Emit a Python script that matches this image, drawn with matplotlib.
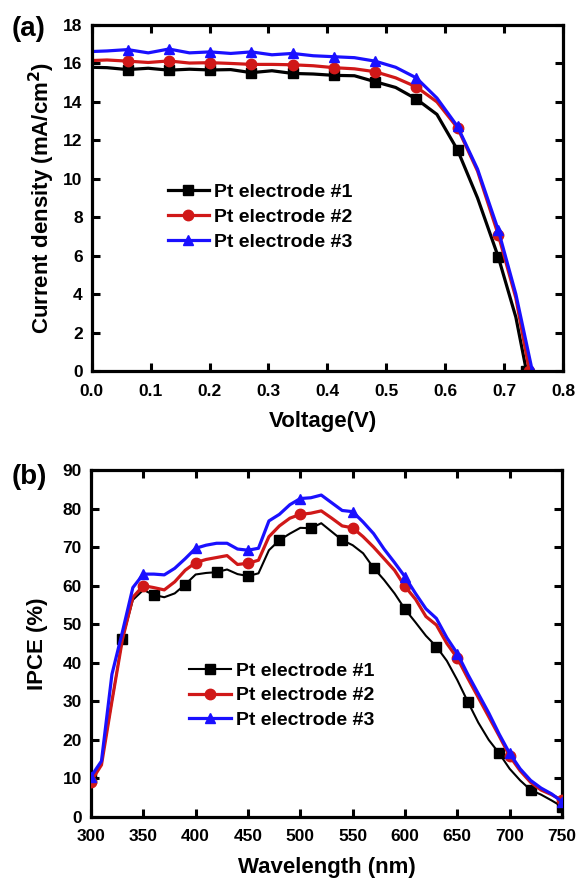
import matplotlib
matplotlib.use("Agg")
import matplotlib.pyplot as plt

plt.rcParams['font.family'] = ['Liberation Sans', 'DejaVu Sans']
plt.rcParams['font.weight'] = 'bold'
plt.rcParams['mathtext.default'] = 'bf'

labels = ["Pt electrode #1", "Pt electrode #2", "Pt electrode #3"]
colors = ["#000000", "#d01818", "#1a10ff"]
markers = ["s", "o", "^"]

# ---- J-V data ----
voltage = [0.0, 0.026, 0.061, 0.096, 0.131, 0.166, 0.201, 0.236, 0.271, 0.306,
           0.341, 0.376, 0.411, 0.446, 0.481, 0.516, 0.551, 0.586, 0.621, 0.655,
           0.690, 0.720]
v_end = [0.738, 0.743, 0.748]
j1 = [15.80, 15.78, 15.68, 15.75, 15.65, 15.70, 15.66, 15.68, 15.52, 15.62,
      15.48, 15.45, 15.38, 15.36, 15.05, 14.75, 14.15, 13.35, 11.50, 9.00,
      5.95, 2.80, 0.0]
j2 = [16.15, 16.18, 16.12, 16.05, 16.13, 16.02, 16.04, 16.00, 15.95, 15.95,
      15.93, 15.88, 15.78, 15.72, 15.57, 15.25, 14.78, 14.00, 12.65, 10.40,
      7.10, 3.80, 0.0]
j3 = [16.62, 16.65, 16.72, 16.55, 16.75, 16.55, 16.60, 16.52, 16.60, 16.45,
      16.52, 16.40, 16.35, 16.30, 16.12, 15.80, 15.25, 14.20, 12.72, 10.50,
      7.35, 4.00, 0.0]

# ---- IPCE data ----
wavelength = list(range(300, 760, 10))
ipce1 = [10.0, 14.0, 30.0, 46.2, 56.3, 58.9, 57.6, 57.0, 58.0, 60.3,
         62.9, 63.3, 63.5, 64.2, 63.0, 62.5, 63.2, 69.2, 71.8, 73.5,
         75.0, 74.9, 76.2, 74.0, 71.8, 70.5, 68.4, 64.6, 61.5, 58.0,
         53.9, 50.5, 47.0, 44.2, 40.5, 35.5, 29.9, 24.5, 20.0, 16.5,
         12.5, 9.5, 7.0, 5.8, 4.3, 2.7]
ipce2 = [9.2, 13.5, 30.0, 46.0, 57.0, 60.0, 59.5, 58.9, 61.0, 64.0,
         66.0, 66.8, 67.3, 67.8, 65.5, 65.8, 66.6, 72.7, 75.5, 77.5,
         78.5, 78.8, 79.4, 77.5, 75.5, 75.0, 72.7, 70.0, 67.0, 64.0,
         59.8, 56.5, 52.0, 49.8, 45.0, 41.2, 36.0, 31.0, 26.0, 21.0,
         15.8, 12.0, 9.0, 7.0, 5.8, 4.3]
ipce3 = [10.5, 14.5, 37.0, 48.0, 59.5, 63.0, 63.0, 62.8, 64.5, 67.0,
         69.7, 70.5, 71.0, 71.0, 69.5, 69.2, 69.7, 76.8, 78.5, 81.0,
         82.6, 82.8, 83.5, 81.5, 79.5, 79.2, 76.5, 73.5, 69.5, 66.0,
         62.3, 58.0, 54.0, 51.5, 46.5, 42.4, 37.0, 32.0, 27.0, 21.5,
         16.5, 12.5, 9.5, 7.5, 6.0, 4.0]

fig = plt.figure(figsize=(5.77, 8.8), dpi=100)
ax1 = fig.add_axes([0.1589, 0.5784, 0.8168, 0.3932])
ax2 = fig.add_axes([0.1577, 0.0716, 0.8163, 0.3943])

def style(ax, xpad):
    for s in ax.spines.values():
        s.set_linewidth(2.3)
    ax.tick_params(which='major', direction='in', length=6, width=2.2,
                   labelsize=12.5, top=True, right=True)
    ax.tick_params(axis='y', pad=6.5)
    ax.tick_params(axis='x', pad=xpad)
    for lab in ax.get_xticklabels() + ax.get_yticklabels():
        lab.set_fontweight('bold')

# top panel
jv = [j1, j2, j3]
jv_marks = list(range(2, 22, 2)) + [22]
for i in range(3):
    xs = voltage + [v_end[i]]
    ax1.plot(xs, jv[i], color=colors[i], lw=2.3, marker=markers[i], ms=7.5,
             markevery=jv_marks, label=labels[i])
ax1.set_xlim(0, 0.8)
ax1.set_ylim(0, 18)
ax1.set_xticks([0.0, 0.1, 0.2, 0.3, 0.4, 0.5, 0.6, 0.7, 0.8])
ax1.set_xticklabels(["0.0", "0.1", "0.2", "0.3", "0.4", "0.5", "0.6", "0.7", "0.8"])
ax1.set_yticks(range(0, 19, 2))
style(ax1, 9.5)
ax1.set_xlabel("Voltage(V)", fontsize=16, fontweight='bold')
ax1.xaxis.set_label_coords(0.49, -0.116)
ax1.set_ylabel("Current density (mA/cm$^2$)", fontsize=16, fontweight='bold', va='center')
ax1.yaxis.set_label_coords(-0.106, 0.5)
ax1.legend(loc='upper left', bbox_to_anchor=(0.162, 0.5416), frameon=False,
           borderpad=0, borderaxespad=0, handlelength=2.1, handletextpad=0.28,
           labelspacing=0.37, prop={'weight': 'bold', 'size': 14})

# bottom panel
ipce = [ipce1, ipce2, ipce3]
ipce_marks = [list(range(0, 46, 3)), list(range(0, 46, 5)), list(range(0, 46, 5))]
ipce_lw = [1.5, 2.3, 2.3]
for i in range(3):
    ax2.plot(wavelength, ipce[i], color=colors[i], lw=ipce_lw[i], marker=markers[i],
             ms=7.5, markevery=ipce_marks[i], label=labels[i], zorder=2 + i)
ax2.set_xlim(300, 750)
ax2.set_ylim(0, 90)
ax2.set_xticks(range(300, 751, 50))
ax2.set_yticks(range(0, 91, 10))
style(ax2, 9)
ax2.set_xlabel("Wavelength (nm)", fontsize=16, fontweight='bold')
ax2.xaxis.set_label_coords(0.5, -0.115)
ax2.set_ylabel("IPCE (%)", fontsize=16, fontweight='bold', va='center')
ax2.yaxis.set_label_coords(-0.113, 0.5)
ax2.legend(loc='upper left', bbox_to_anchor=(0.208, 0.4467), frameon=False,
           borderpad=0, borderaxespad=0, handlelength=2.15, handletextpad=0.26,
           labelspacing=0.37, prop={'weight': 'bold', 'size': 14})

fig.text(0.02, 0.967, "(a)", fontsize=20, fontweight='bold', va='center', ha='left')
fig.text(0.02, 0.458, "(b)", fontsize=20, fontweight='bold', va='center', ha='left')

fig.savefig("out.png", dpi=100)
